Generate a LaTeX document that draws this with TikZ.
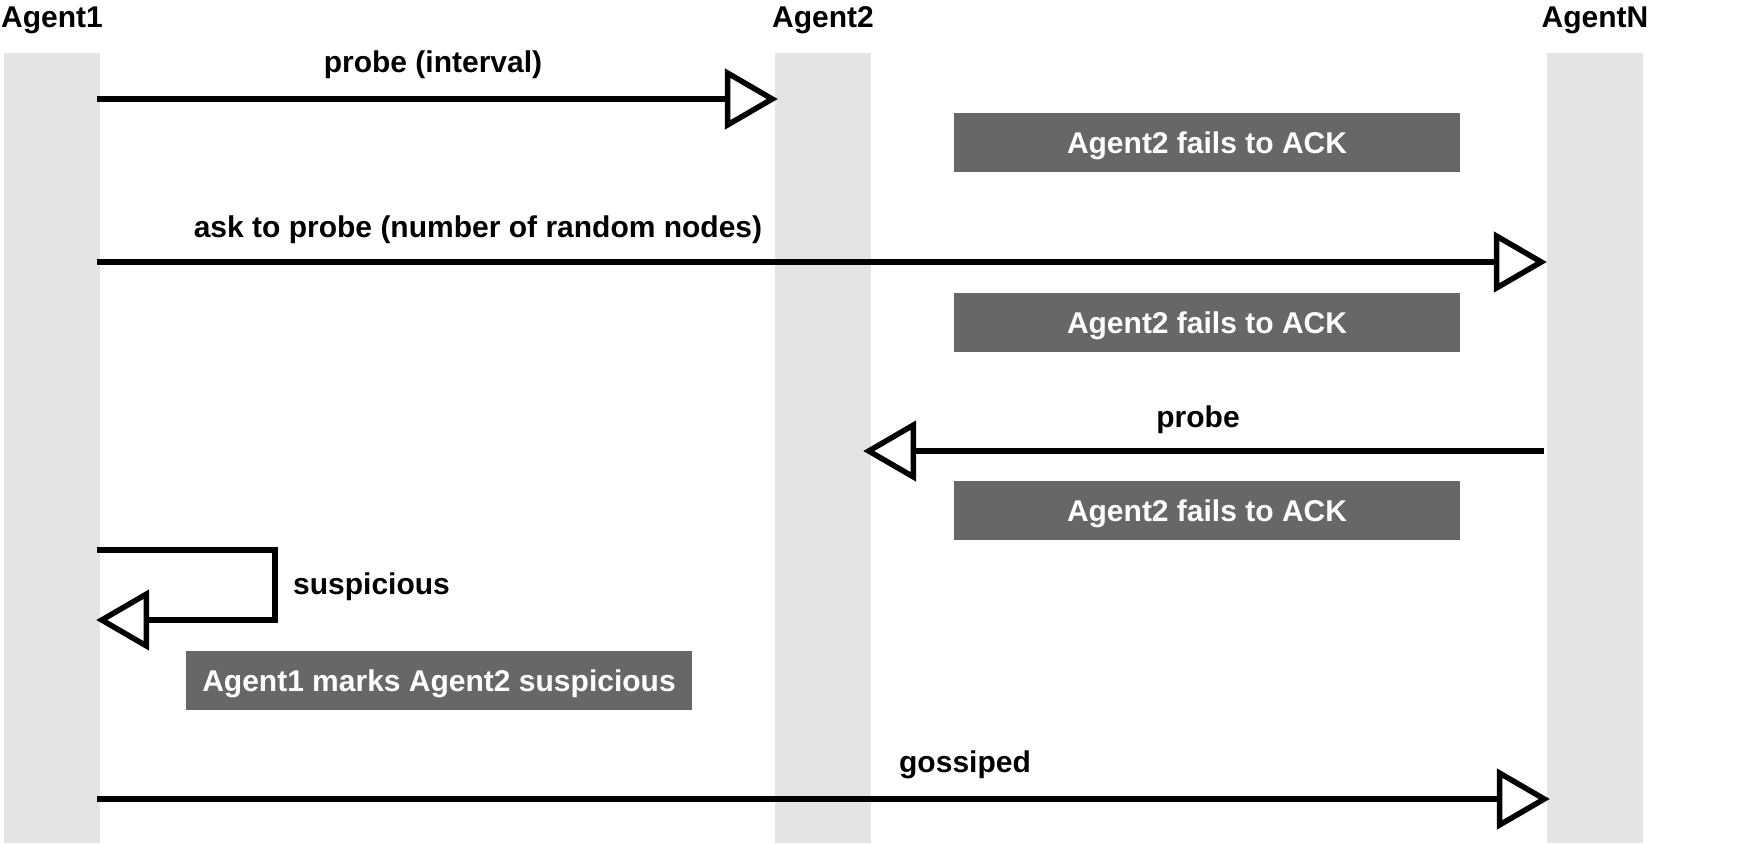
\documentclass[tikz,border=0pt]{standalone}
\usepackage{fontspec}
\setmainfont{Liberation Sans}
\usetikzlibrary{arrows.meta}
\definecolor{lanegray}{HTML}{E4E4E4}
\definecolor{notegray}{HTML}{676767}
\begin{document}
\begin{tikzpicture}[x=1pt,y=-1pt,
  font=\fontsize{30}{36}\selectfont\bfseries,
  lane/.style={fill=lanegray, draw=none, minimum width=96pt, minimum height=790pt, inner sep=0pt},
  lbl/.style={inner sep=0pt, anchor=base},
  note/.style={fill=notegray, text=white, minimum width=506pt, minimum height=59pt, inner sep=0pt, text height=21.5pt, text depth=0pt},
  msg/.style={line width=5.5pt, -{Triangle[length=53pt,width=60pt,fill=white]}},
]
\useasboundingbox (0,0) rectangle (1742,843);
% lanes
\node[lane] (L1) at (52,448) {};
\node[lane] (L2) at (823,448) {};
\node[lane] (LN) at (1595,448) {};
% lane titles
\node[lbl] (h1) at (52,28) {Agent1};
\node[lbl] (h2) at (823,28) {Agent2};
\node[lbl] (hN) at (1595,28) {AgentN};
% rows
\coordinate (r1) at (0,99);
\coordinate (r2) at (0,262);
\coordinate (r3) at (0,451);
\coordinate (s1) at (0,550);
\coordinate (s2) at (0,620);
\coordinate (r4) at (0,799);
% message labels
\node[lbl] (m1) at (433,73) {probe (interval)};
\node[lbl] (m2) at (478,237) {ask to probe (number of random nodes)};
\node[lbl] (m3) at (1198,427) {probe};
\node[lbl, anchor=base west] (m4) at (293,594) {suspicious};
\node[lbl] (m5) at (965,772) {gossiped};
% notes
\node[note] (n1) at (1207,142.5) {Agent2 fails to ACK};
\node[note] (n2) at (1207,322.5) {Agent2 fails to ACK};
\node[note] (n3) at (1207,510.5) {Agent2 fails to ACK};
\node[note] (n4) at (439,680.5) {Agent1 marks Agent2 suspicious};
% messages
\draw[msg] ([xshift=-3pt]L1.east |- r1) -- ([xshift=3pt]L2.west |- r1);
\draw[msg] ([xshift=-3pt]L1.east |- r2) -- (LN.west |- r2);
\draw[msg] ([xshift=-3pt]LN.west |- r3) -- ([xshift=-8pt]L2.east |- r3);
\draw[msg] ([xshift=-3pt]L1.east |- s1) -- ++(178,0) -- ++(0,70) -- ([xshift=-4pt]L1.east |- s2);
\draw[msg] ([xshift=-3pt]L1.east |- r4) -- ([xshift=3pt]LN.west |- r4);
\end{tikzpicture}
\end{document}
